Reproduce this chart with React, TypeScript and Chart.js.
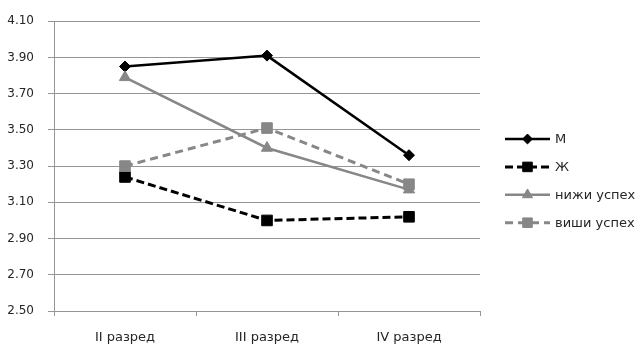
import React, { useEffect, useRef } from "react";
import { Chart, registerables } from "chart.js";
import { drawPoint } from "chart.js/helpers";

Chart.register(...registerables);

// Grades on the x axis
const categories = ["II разред", "III разред", "IV разред"];

// Average scores per group
const seriesNames = ["М", "Ж", "нижи успех", "виши успех"];
const maleValues = [3.85, 3.91, 3.36];
const femaleValues = [3.24, 3.0, 3.02];
const lowerValues = [3.79, 3.4, 3.17];
const higherValues = [3.3, 3.51, 3.2];

// Value axis range
const yMin = 2.5;
const yMax = 4.1;
const yStep = 0.2;

const FONT = "'DejaVu Sans', sans-serif";
const GRAY = "#878787";
const GRID = "#959595";
const TEXT = "#262626";

// Legend drawn to the right of the plot: a line sample with its marker in the middle
const lineLegend = {
  id: "lineLegend",
  afterDraw(chart: any) {
    const ctx = chart.ctx;
    const area = chart.chartArea;
    const x0 = area.right + 25;
    const x1 = area.right + 70;
    const yStart = 139;
    const gap = 27.9;
    chart.data.datasets.forEach((ds: any, i: number) => {
      const y = yStart + i * gap;
      ctx.save();
      ctx.strokeStyle = ds.borderColor;
      ctx.lineWidth = ds.borderWidth;
      ctx.setLineDash(ds.borderDash || []);
      ctx.beginPath();
      ctx.moveTo(x0, y);
      ctx.lineTo(x1, y);
      ctx.stroke();
      ctx.setLineDash([]);
      ctx.fillStyle = ds.pointBackgroundColor;
      ctx.strokeStyle = ds.pointBorderColor;
      ctx.lineWidth = 1;
      drawPoint(ctx, { pointStyle: ds.pointStyle, radius: ds.pointRadius * 0.9, rotation: 0, borderWidth: 1 }, (x0 + x1) / 2, y);
      ctx.fillStyle = TEXT;
      ctx.font = `13px ${FONT}`;
      ctx.textBaseline = "middle";
      ctx.textAlign = "left";
      ctx.fillText(ds.label, x1 + 5, y + 1);
      ctx.restore();
    });
  },
};

function series(label: string, data: number[], color: string, dash: number[], style: string, radius: number, order: number, width: number) {
  return {
    label,
    data,
    borderColor: color,
    borderWidth: width,
    borderDash: dash,
    pointStyle: style,
    pointRadius: radius,
    pointHoverRadius: radius,
    pointBackgroundColor: color,
    pointBorderColor: color,
    pointBorderWidth: 1,
    tension: 0,
    fill: false,
    order,
  };
}

export default function App() {
  const canvasRef = useRef<HTMLCanvasElement | null>(null);

  useEffect(() => {
    document.body.style.margin = "0";
    const canvas = canvasRef.current;
    if (!canvas) return;
    const chart = new Chart(canvas, {
      type: "line",
      data: {
        labels: categories,
        datasets: [
          series(seriesNames[0], maleValues, "#000000", [], "rectRot", 5.5, 3, 2.5),
          series(seriesNames[1], femaleValues, "#000000", [8, 4], "rect", 7.5, 2, 3),
          series(seriesNames[2], lowerValues, GRAY, [], "triangle", 6.5, 1, 2.5),
          series(seriesNames[3], higherValues, GRAY, [8, 5], "rect", 7.5, 0, 3),
        ],
      },
      options: {
        animation: false,
        responsive: false,
        maintainAspectRatio: false,
        layout: { padding: { top: 17, right: 155, left: 0, bottom: 0 } },
        plugins: {
          legend: { display: false },
          tooltip: { enabled: false },
        },
        scales: {
          x: {
            offset: true,
            grid: {
              offset: true,
              drawOnChartArea: false,
              drawTicks: true,
              tickLength: 5,
              color: GRID,
            },
            border: { display: true, color: GRID },
            ticks: {
              color: TEXT,
              font: { family: FONT, size: 13 },
              padding: 14,
              maxRotation: 0,
            },
            afterFit(scale: any) {
              scale.height = 33;
            },
          },
          y: {
            min: yMin,
            max: yMax,
            grid: { color: GRID, tickLength: 6, drawTicks: true },
            border: { display: true, color: GRID },
            ticks: {
              stepSize: yStep,
              color: TEXT,
              font: { family: FONT, size: 12 },
              padding: 14,
              callback: (v: any) => Number(v).toFixed(2),
            },
            afterFit(scale: any) {
              scale.width = 54;
            },
          },
        },
      },
      plugins: [lineLegend],
    });
    return () => chart.destroy();
  }, []);

  return (
    <div style={{ position: "fixed", left: 0, top: 0, width: 635, height: 344, background: "#ffffff" }}>
      <canvas ref={canvasRef} width={635} height={344} style={{ width: 635, height: 344, display: "block" }} />
    </div>
  );
}
